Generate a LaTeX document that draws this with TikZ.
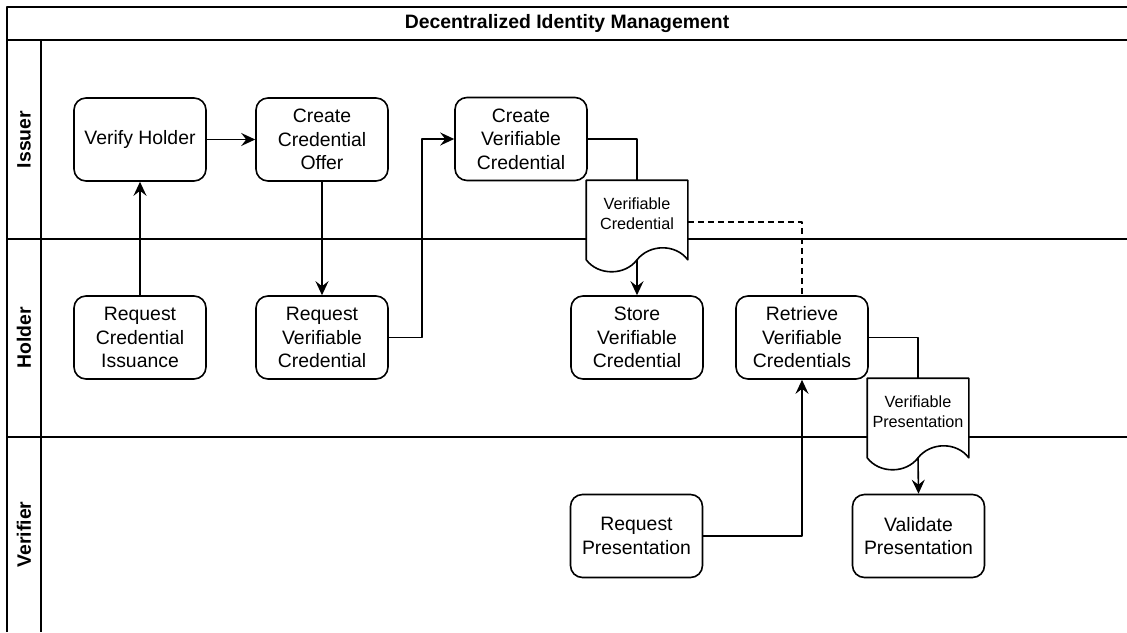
\documentclass[tikz,border=0pt]{standalone}
\usepackage{fontspec}
\setmainfont{Liberation Sans}
\usetikzlibrary{arrows.meta,calc}

% Outline of a "document" shape: flat top, wavy bottom hanging 12pt below the node
\newcommand\docoutline[1]{%
  \draw (#1.north west) -- (#1.north east) -- ($(#1.south east)+(0,12)$)
    .. controls ($(#1.south east)+(-12,-4)$) and ($(#1.south east)+(-38,-4)$) .. ($(#1.south)+(0,12)$)
    .. controls ($(#1.south)+(-12,28)$) and ($(#1.south west)+(12,28)$) .. ($(#1.south west)+(0,12)$)
    -- cycle;}

\begin{document}
\begin{tikzpicture}[x=1pt,y=-1pt,line width=1.6pt,line join=round,
  stepbox/.style={draw,rounded corners=12pt,minimum width=132pt,minimum height=83pt,
    align=center,inner sep=0pt,font=\fontsize{19.4}{23.5}\selectfont},
  docbox/.style={fill=white,minimum width=100pt,minimum height=66pt,
    align=center,inner sep=0pt,font=\fontsize{16.2}{19.8}\selectfont},
  lanelabel/.style={rotate=90,font=\bfseries\fontsize{19.4}{23.5}\selectfont},
  titletext/.style={font=\bfseries\fontsize{19.4}{23.5}\selectfont},
  frame/.style={line width=1.8pt},
  flow/.style={-{Stealth[length=14pt,width=13pt,inset=5pt]}},
  link/.style={dash pattern=on 6pt off 4pt}]

\useasboundingbox (0,0) rectangle (1127,632);

% swimlane frame
\draw[frame] (7,632) -- (7,7) -- (1127,7);
\draw[frame] (7,40) -- (1127,40);
\draw[frame] (41,40) -- (41,632);
\draw[frame] (7,239) -- (1127,239);
\draw[frame] (7,437) -- (1127,437);

\node[titletext] (title) at (567,23.5) {Decentralized Identity Management};
\node[lanelabel] (issuer) at (24,139.5) {Issuer};
\node[lanelabel] (holder) at (24,338) {Holder};
\node[lanelabel] (verifier) at (24,534.5) {Verifier};

% process steps
\node[stepbox] (vh)   at (140,139.5) {Verify Holder};
\node[stepbox] (cco)  at (322,139.5) {Create\\Credential\\Offer};
\node[stepbox] (cvc)  at (521,139)   {Create\\Verifiable\\Credential};
\node[stepbox] (rci)  at (140,337.5) {Request\\Credential\\Issuance};
\node[stepbox] (rvc)  at (322,337.5) {Request\\Verifiable\\Credential};
\node[stepbox] (svc)  at (637,337.5) {Store\\Verifiable\\Credential};
\node[stepbox] (rv)   at (802,337.5) {Retrieve\\Verifiable\\Credentials};
\node[stepbox] (rp)   at (636.5,536) {Request\\Presentation};
\node[stepbox] (valp) at (918.5,536) {Validate\\Presentation};

% documents
\node[docbox] (vc) at (637,214) {Verifiable\\Credential};
\docoutline{vc}
\node[docbox] (vp) at (918,412) {Verifiable\\Presentation};
\docoutline{vp}
\coordinate (vcb) at ($(vc.south)+(0,12)$);
\coordinate (vpb) at ($(vp.south)+(0,12)$);

% connectors
\draw[flow] (rci.north) -- (vh.south);
\draw[flow] (vh.east) -- (cco.west);
\draw[flow] (cco.south) -- (rvc.north);
\draw[flow] (rvc.east) -- ++(33,0) |- (cvc.west);
\draw (cvc.east) -| (vc.north);
\draw[flow] (vcb) -- (svc.north);
\draw[link] ([yshift=-8pt]vc.east) -| (rv.north);
\draw (rv.east) -| (vp.north);
\draw[flow] (vpb) -- (valp.north);
\draw[flow] (rp.east) -| (rv.south);

\end{tikzpicture}
\end{document}
